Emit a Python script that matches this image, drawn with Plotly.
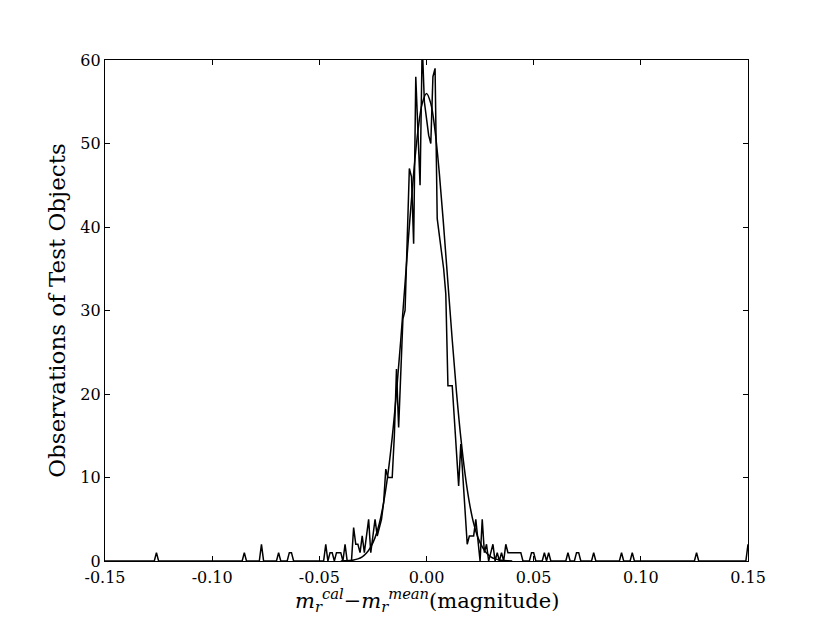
import plotly.graph_objects as go

# histogram bins, 0.001 wide, from -0.150 to 0.150 (bin index in thousandths)
BIN_LO, BIN_HI = -150, 150
BIN_WIDTH = 0.001

# non-empty bins: bin index -> observations
nonzero_counts = {
    -126: 1, -85: 1, -77: 2, -69: 1, -64: 1, -63: 1,
    -47: 2, -45: 1, -44: 1, -42: 1, -41: 1, -40: 1, -38: 2,
    -34: 4, -33: 2, -32: 2, -31: 1, -30: 3, -29: 1, -28: 3, -27: 5, -26: 1,
    -25: 3, -24: 5, -23: 3, -22: 4, -21: 5, -20: 7, -19: 11, -18: 10,
    -17: 10, -16: 10, -15: 15, -14: 23, -13: 16, -12: 22, -11: 29, -10: 30,
    -9: 38, -8: 47, -7: 46, -6: 38, -5: 58, -4: 52, -3: 45, -2: 62, -1: 55,
    0: 53, 1: 51, 2: 50, 3: 58, 4: 59, 5: 41, 6: 39, 7: 37, 8: 35, 9: 32,
    10: 21, 11: 21, 12: 21, 13: 17, 14: 13, 15: 9, 16: 14, 17: 10, 18: 6,
    19: 2, 20: 3, 21: 3, 22: 3, 23: 5, 24: 2, 26: 5, 27: 1, 28: 2, 30: 1,
    31: 2, 33: 1, 35: 1, 37: 2, 38: 1, 39: 1, 40: 1, 41: 1, 42: 1, 43: 1,
    44: 1, 49: 1, 50: 1, 55: 1, 57: 1, 66: 1, 70: 1, 71: 1, 78: 1, 91: 1,
    96: 1, 126: 1, 150: 2,
}

# fitted gaussian, read at 0.002 steps
fit_x = [-0.040, -0.038, -0.036, -0.034, -0.032, -0.030, -0.028, -0.026, -0.024,
         -0.022, -0.020, -0.018, -0.016, -0.014, -0.012, -0.010, -0.008, -0.006,
         -0.004, -0.002, 0.000, 0.002, 0.004, 0.006, 0.008, 0.010, 0.012, 0.014,
         0.016, 0.018, 0.020, 0.022, 0.024, 0.026, 0.028, 0.030, 0.032, 0.034,
         0.036, 0.038, 0.040]
fit_y = [0.01, 0.03, 0.06, 0.12, 0.25, 0.5, 0.95, 1.7, 2.8, 4.5, 7.0, 10.4, 14.8,
         20.2, 26.5, 33.3, 40.1, 46.4, 51.5, 54.8, 56.0, 54.8, 51.5, 46.4, 40.1,
         33.3, 26.5, 20.2, 14.8, 10.4, 7.0, 4.5, 2.8, 1.7, 0.95, 0.5, 0.25, 0.12,
         0.06, 0.03, 0.01]

x_ticks = [-0.15, -0.10, -0.05, 0.00, 0.05, 0.10, 0.15]
x_tick_labels = ["-0.15", "-0.10", "-0.05", "0.00", "0.05", "0.10", "0.15"]
y_ticks = [0, 10, 20, 30, 40, 50, 60]

bins = list(range(BIN_LO, BIN_HI + 1))
hist_x = [b * BIN_WIDTH for b in bins]
hist_y = [nonzero_counts.get(b, 0) for b in bins]

FONT = "DejaVu Serif"

fig = go.Figure()
fig.add_trace(go.Scatter(x=hist_x, y=hist_y, mode="lines",
                         line=dict(color="black", width=1.5), showlegend=False))
fig.add_trace(go.Scatter(x=fit_x, y=fit_y, mode="lines",
                         line=dict(color="black", width=1.5, shape="spline"),
                         showlegend=False))

axis_style = dict(showline=True, linecolor="black", linewidth=1.3, mirror="allticks",
                  ticks="inside", ticklen=5, tickwidth=1, tickcolor="black",
                  showgrid=False, zeroline=False,
                  tickfont=dict(family=FONT, size=16, color="black"))

fig.update_xaxes(range=[-0.15, 0.15], tickvals=x_ticks, ticktext=x_tick_labels,
                 ticklabelstandoff=2, **axis_style)
fig.update_yaxes(range=[0, 60], tickvals=y_ticks,
                 title=dict(text="Observations of Test Objects", standoff=8,
                            font=dict(family=FONT, size=23, color="black")),
                 **axis_style)

fig.add_annotation(
    text="<i>m</i><sub><i>r</i></sub><sup><i>cal</i></sup>\u2212<i>m</i><sub><i>r</i></sub>"
         "<sup><i>mean</i></sup>(magnitude)",
    xref="paper", yref="paper", x=0.5, y=-0.077, xanchor="center", yanchor="middle",
    showarrow=False, font=dict(family=FONT, size=21, color="black"),
)

# page is drawn with an 8px body margin, so the plot box is pulled up/left by 8px
fig.update_layout(width=830, height=623, plot_bgcolor="white", paper_bgcolor="white",
                  margin=dict(l=97, r=90, t=52, b=70))
fig.write_html("out.html")
